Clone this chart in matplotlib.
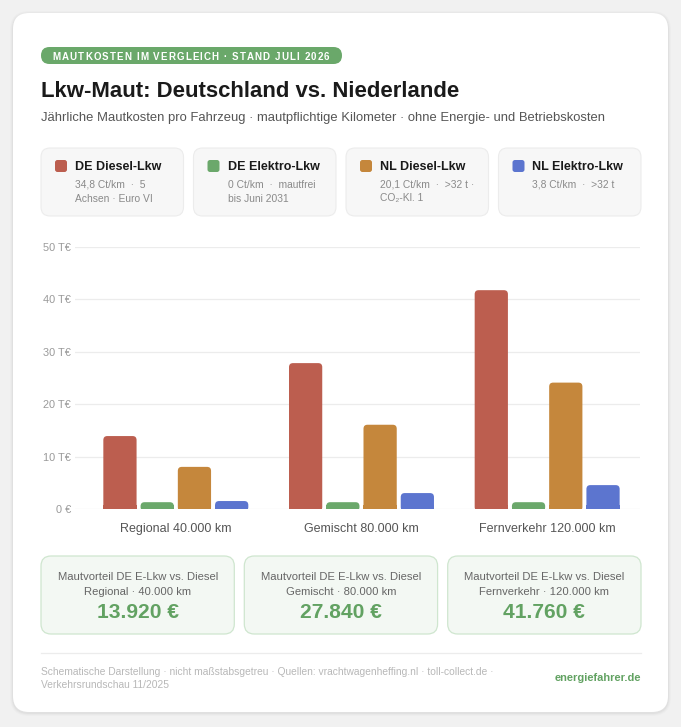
import numpy as np
import matplotlib
matplotlib.use('Agg')
import matplotlib.pyplot as plt
from matplotlib.patches import FancyBboxPatch
from matplotlib.font_manager import FontProperties

# data (T€ per year)
groups = ['Regional 40.000 km', 'Gemischt 80.000 km', 'Fernverkehr 120.000 km']
group_short = ['Regional · 40.000 km', 'Gemischt · 80.000 km', 'Fernverkehr · 120.000 km']
de_diesel = [13.92, 27.84, 41.76]
de_elektro = [0.0, 0.0, 0.0]
nl_diesel = [8.04, 16.08, 24.12]
nl_elektro = [1.52, 3.04, 4.56]
savings = [13920, 27840, 41760]

series_names = ['DE Diesel-Lkw', 'DE Elektro-Lkw', 'NL Diesel-Lkw', 'NL Elektro-Lkw']
series_notes = [['34,8 Ct/km  ·  5', 'Achsen · Euro VI'],
                ['0 Ct/km  ·  mautfrei', 'bis Juni 2031'],
                ['20,1 Ct/km  ·  >32 t ·', 'CO₂-Kl. 1'],
                ['3,8 Ct/km  ·  >32 t']]
colors = ['#bc5e4f', '#6ba86b', '#c5873c', '#5c75cf']
yticks = [0, 10, 20, 30, 40, 50]
ytick_labels = ['0 €', '10 T€', '20 T€', '30 T€', '40 T€', '50 T€']
kicker = 'MAUTKOSTEN IM VERGLEICH · STAND JULI 2026'

plt.rcParams['font.family'] = ['Liberation Sans', 'DejaVu Sans']

W, H = 681, 727
fig = plt.figure(figsize=(W/100, H/100), dpi=100)
fig.patch.set_facecolor('#f1f1f1')
renderer = fig.canvas.get_renderer()

# overlay axes in pixel coordinates
bg = fig.add_axes([0, 0, 1, 1])
bg.set_xlim(0, W)
bg.set_ylim(H, 0)
bg.axis('off')

def px(v):
    return v*0.72

def rbox(x0, y0, x1, y1, r, fc, ec='none', lw=0, z=1):
    p = FancyBboxPatch((x0+r, y0+r), x1-x0-2*r, y1-y0-2*r,
                       boxstyle='round,pad=%g' % r, fc=fc, ec=ec, lw=lw, zorder=z)
    bg.add_patch(p)
    return p

# shadow + white card
for i, a in enumerate([0.015, 0.02, 0.03]):
    d = 3 - i
    rbox(13-d, 13-d+1, 668+d, 712+d+1, 16+d, fc=(0, 0, 0, a), z=0)
rbox(13, 13, 668, 712, 16, fc='white', z=1)

# pill with letter-spaced kicker
rbox(41, 47, 342, 64, 8.5, fc='#6aa86a', z=2)
fp = FontProperties(family='Liberation Sans', weight='bold', size=px(9.8))
widths = [renderer.get_text_width_height_descent(c, fp, ismath=False)[0] for c in kicker]
target = 277.0
spacing = (target - sum(widths)) / (len(kicker) - 1)
cx = 52.5
for c, w in zip(kicker, widths):
    if c != ' ':
        bg.text(cx, 59.6, c, fontproperties=fp, color='white', va='baseline', zorder=3)
    cx += w + spacing

bg.text(41, 97, 'Lkw-Maut: Deutschland vs. Niederlande', fontsize=px(22.2),
        fontweight='bold', color='#1a1a1a', va='baseline', zorder=3)
bg.text(41, 121, 'Jährliche Mautkosten pro Fahrzeug · mautpflichtige Kilometer · ohne Energie- und Betriebskosten',
        fontsize=px(13.0), color='#555555', va='baseline', zorder=3)

# legend cards
card_x = [41, 193.5, 346, 498.5]
for i in range(4):
    x0 = card_x[i]
    rbox(x0, 148, x0+142.5, 216, 9, fc='#f7f7f7', ec='#ececec', lw=0.8, z=2)
    rbox(x0+14, 160, x0+26, 172, 2.5, fc=colors[i], z=3)
    bg.text(x0+34, 170, series_names[i], fontsize=px(12.5), fontweight='bold',
            color='#1a1a1a', va='baseline', zorder=3)
    for j, line in enumerate(series_notes[i]):
        bg.text(x0+34, 187.5+j*14, line, fontsize=px(10.3), color='#8a8a8a',
                va='baseline', zorder=3)

# bar chart
ax = fig.add_axes([75/W, 1-509/H, 565/W, 262/H])
ax.set_facecolor('none')
x = np.arange(len(groups))
step = 0.2006
bw = 0.179
min_vis = 1.3  # zero values are drawn as a small stub
all_series = [de_diesel, de_elektro, nl_diesel, nl_elektro]
ax.set_xlim(-0.543, 2.5)
ax.set_ylim(0, 50)
rx = 4/188.0
ry = 4/5.24
for k, vals in enumerate(all_series):
    vals = np.maximum(np.array(vals), min_vis)
    bars = ax.bar(x + (k-1.5)*step, vals, bw, color=colors[k], alpha=0)
    for b in bars:
        bx, by, bwid, bh = b.get_x(), b.get_y(), b.get_width(), b.get_height()
        ax.add_patch(FancyBboxPatch((bx+rx, by+ry*0.5), bwid-2*rx, bh-ry*1.5,
                                    boxstyle='round,pad=%g' % rx, mutation_aspect=ry/rx,
                                    fc=colors[k], ec='none', zorder=3))
        ax.add_patch(plt.Rectangle((bx, by), bwid, min(bh, ry), fc=colors[k], ec='none', zorder=3))

ax.set_yticks(yticks)
ax.set_yticklabels(ytick_labels)
ax.set_xticks(x)
ax.set_xticklabels(groups)
ax.grid(axis='y', color='#ececec', lw=0.9)
ax.set_axisbelow(True)
for s in ax.spines.values():
    s.set_visible(False)
ax.tick_params(axis='y', length=0, pad=3, labelsize=px(11), labelcolor='#9a9a9a')
ax.tick_params(axis='x', length=0, pad=10, labelsize=px(12.5), labelcolor='#555555')

# savings cards
sx = [41, 244.3, 447.7]
for i in range(3):
    x0 = sx[i]
    cx = x0 + 96.7
    rbox(x0, 556, x0+193.3, 634, 10, fc='#f3f8f3', ec='#cfe6cf', lw=0.9, z=2)
    bg.text(cx, 579.5, 'Mautvorteil DE E-Lkw vs. Diesel', fontsize=px(11.3),
            color='#666666', ha='center', va='baseline', zorder=3)
    bg.text(cx, 595, group_short[i], fontsize=px(11.3), color='#666666',
            ha='center', va='baseline', zorder=3)
    bg.text(cx, 618, '{:,}'.format(savings[i]).replace(',', '.') + ' €', fontsize=px(21),
            fontweight='bold', color='#62a262', ha='center', va='baseline', zorder=3)

bg.plot([41, 641], [653, 653], color='#ececec', lw=0.9, zorder=2)
bg.text(41, 675, 'Schematische Darstellung · nicht maßstabsgetreu · Quellen: vrachtwagenheffing.nl · toll-collect.de ·',
        fontsize=px(10.2), color='#b8b8b8', va='baseline', zorder=3)
bg.text(41, 688, 'Verkehrsrundschau 11/2025', fontsize=px(10.2), color='#b8b8b8',
        va='baseline', zorder=3)
bg.text(641, 681, 'energiefahrer.de', fontsize=px(11), fontweight='bold', color='#62a262',
        ha='right', va='baseline', zorder=3)

fig.savefig('out.png', dpi=100, facecolor=fig.get_facecolor())
